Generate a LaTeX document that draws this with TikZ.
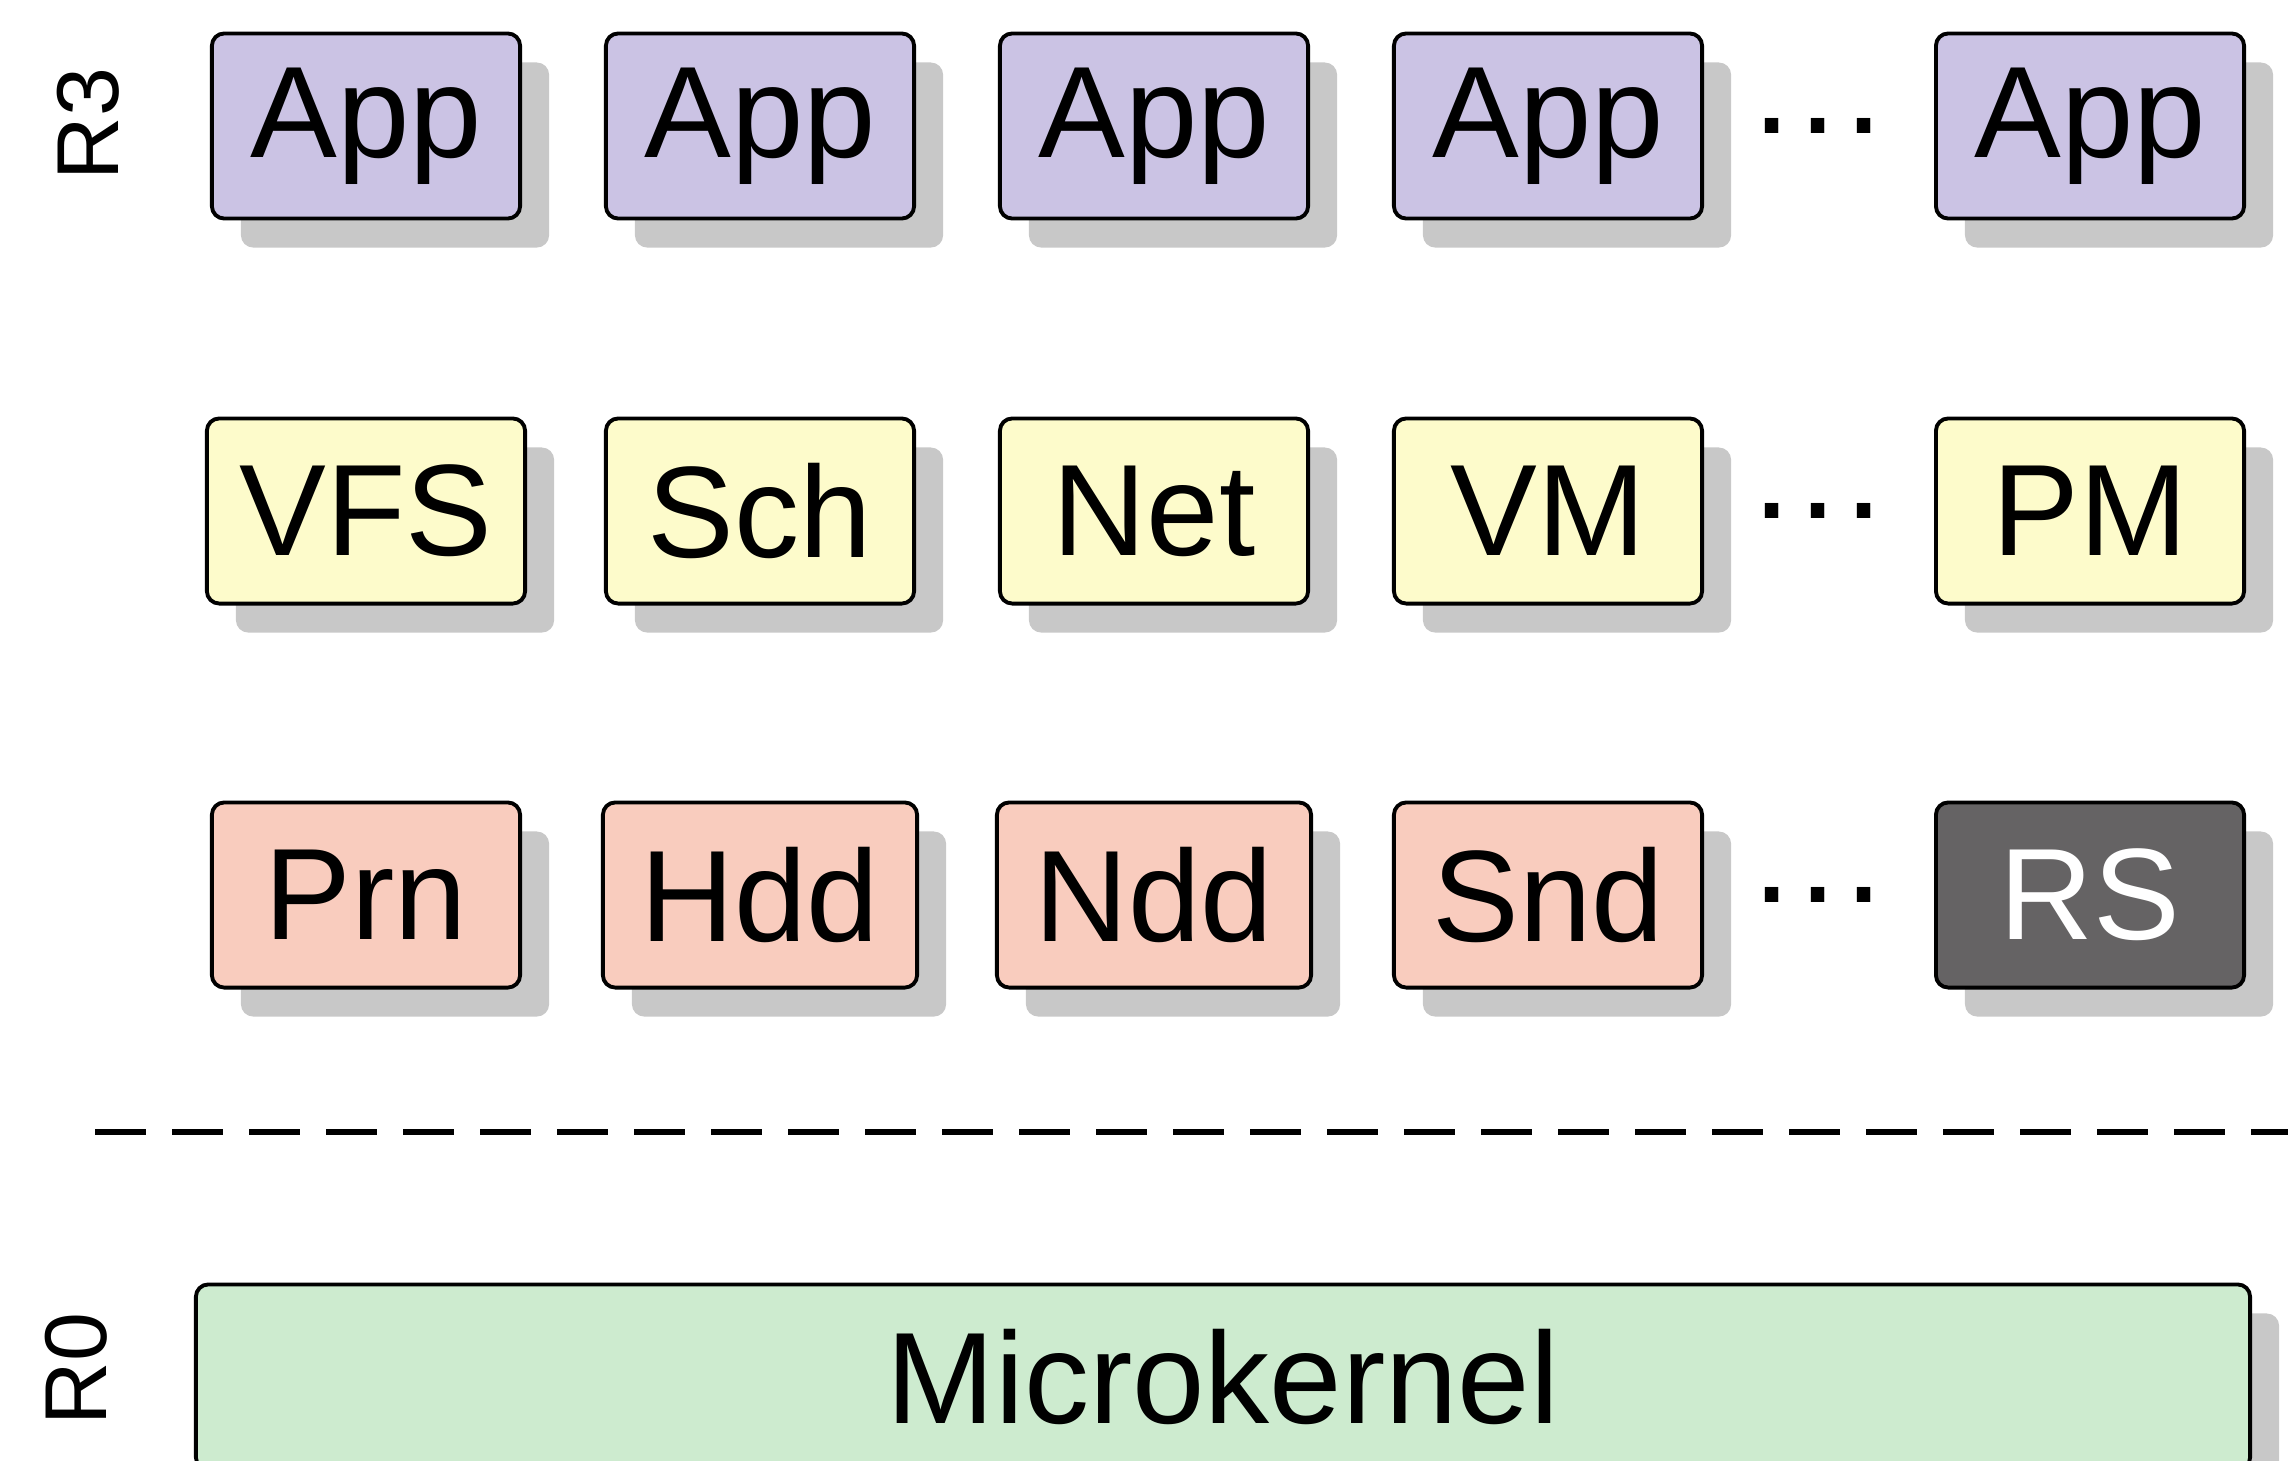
\documentclass[tikz,border=0pt]{standalone}
\usepackage{fontspec}
\setmainfont{Liberation Sans}
\usepackage{tikz}
\usetikzlibrary{shadows}

\definecolor{appfill}{HTML}{CBC3E4}
\definecolor{srvfill}{HTML}{FDFBCB}
\definecolor{drvfill}{HTML}{F9CCBE}
\definecolor{rsfill}{HTML}{656364}
\definecolor{kernfill}{HTML}{CDEBCF}
\definecolor{shadefill}{HTML}{C8C8C8}

\begin{document}
\begin{tikzpicture}[x=0.01cm,y=-0.01cm,
  box/.style={draw=black, line width=1.1pt, rounded corners=3.5pt, inner sep=0pt,
    minimum width=3.08cm, minimum height=1.85cm, font=\fontsize{37}{44}\selectfont,
    drop shadow={shadow xshift=0.29cm, shadow yshift=-0.29cm, fill=shadefill, opacity=1}},
  appbox/.style={box, fill=appfill},
  srvbox/.style={box, fill=srvfill},
  drvbox/.style={box, fill=drvfill},
  ring/.style={font=\fontsize{25}{30}\selectfont, rotate=90, inner sep=0pt},
  more/.style={font=\fontsize{40}{46}\selectfont, anchor=base, inner sep=0pt}]

\useasboundingbox (0,0) rectangle (2288,1460);

\node [ring] (ringthree) at (88,124) {R3};
\node [ring] (ringzero) at (76,1369) {R0};

\node [appbox] (appA) at (366,126) {App};
\node [appbox] (appB) at (760,126) {App};
\node [appbox] (appC) at (1154,126) {App};
\node [appbox] (appD) at (1548,126) {App};
\node [more] (moreA) at (1818,133) {.\hspace{2pt}.\hspace{2pt}.};
\node [appbox] (appE) at (2090,126) {App};

\node [srvbox, minimum width=3.18cm] (vfs) at (366,511) {VFS};
\node [srvbox] (sch) at (760,511) {Sch};
\node [srvbox] (net) at (1154,511) {Net};
\node [srvbox] (vm) at (1548,511) {VM};
\node [more] (moreB) at (1818,518) {.\hspace{2pt}.\hspace{2pt}.};
\node [srvbox] (pm) at (2090,511) {PM};

\node [drvbox] (prn) at (366,895) {Prn};
\node [drvbox, minimum width=3.14cm] (hdd) at (760,895) {Hdd};
\node [drvbox, minimum width=3.14cm] (ndd) at (1154,895) {Ndd};
\node [drvbox] (snd) at (1548,895) {Snd};
\node [more] (moreC) at (1818,902) {.\hspace{2pt}.\hspace{2pt}.};
\node [box, fill=rsfill, text=white] (rs) at (2090,895) {RS};

\coordinate (sepL) at (95,1132);
\coordinate (sepR) at (2288,1132);
\draw [line width=1.7pt, dash pattern=on 14.5pt off 7.4pt] (sepL) -- (sepR);

\node [box, fill=kernfill, minimum width=20.53cm] (kernel) at (1223,1377) {Microkernel};

\end{tikzpicture}
\end{document}
